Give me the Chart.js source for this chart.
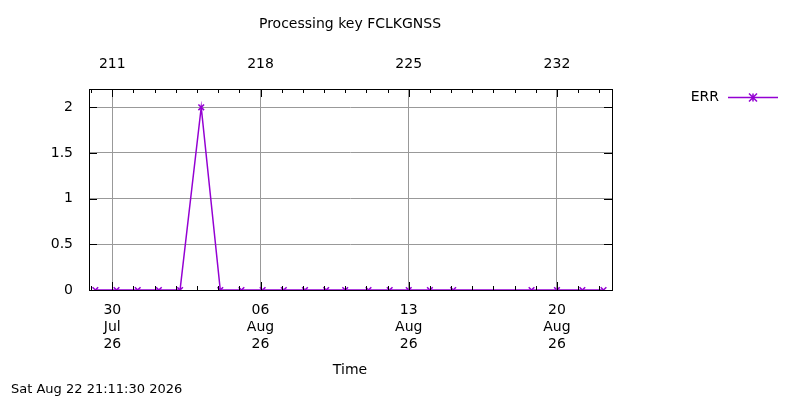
<!DOCTYPE html>
<html><head><meta charset="utf-8">
<script src="https://cdn.jsdelivr.net/npm/chart.js@4/dist/chart.umd.min.js"></script>
<style>html,body{margin:0;padding:0;background:#fff}#w{width:800px;height:400px}</style>
</head><body><div id="w"><canvas id="c" width="800" height="400"></canvas></div>
<script>
const dayOfYear = [210.2,211.2,212.2,213.2,214.2,215.2,216.1,217.1,218.1,219.1,220.1,221.1,222.0,223.1,224.1,225.0,226.0,227.1,230.8,232.0,233.2,234.2];
const errValues = [0,0,0,0,0,2,0,0,0,0,0,0,0,0,0,0,0,0,0,0,0,0];
const topTicks = [211,218,225,232];
const bottomTickLabels = {211:['30','Jul','26'],218:['06','Aug','26'],225:['13','Aug','26'],232:['20','Aug','26']};
const yTicks = [0,0.5,1,1.5,2];
const title = 'Processing key FCLKGNSS';
const xTitle = 'Time';
const stamp = 'Sat Aug 22 21:11:30 2026';
const seriesName = 'ERR';
const color = '#9400d3';
const F = 'DejaVu Sans';

const deco = {
  id:'deco',
  afterDraw(ch){
    const c=ch.ctx, a=ch.chartArea;
    c.save();
    c.strokeStyle='#000';c.lineWidth=1;
    c.strokeRect(a.left+0.5,a.top+0.5,a.right-a.left,a.bottom-a.top);
    c.beginPath();
    const xs=ch.scales.x, ys=ch.scales.y;
    for(let d=210; d<=234; d++){
      if(d<xs.min||d>xs.max) continue;
      const px=Math.round(xs.getPixelForValue(d))+0.5;
      const L = topTicks.includes(d)?8:4;
      c.moveTo(px,a.bottom);c.lineTo(px,a.bottom-L);
      c.moveTo(px,a.top);c.lineTo(px,a.top+L);
    }
    yTicks.forEach(v=>{const py=Math.round(ys.getPixelForValue(v))+0.5;
      c.moveTo(a.left,py);c.lineTo(a.left+8,py);c.moveTo(a.right,py);c.lineTo(a.right-8,py);});
    c.stroke();
    c.fillStyle='#000';c.font='14px '+F;c.textBaseline='middle';
    c.textAlign='center';
    c.fillText(title,350,24);
    c.fillText(xTitle,350,370);
    c.textAlign='left';c.font='13px '+F;
    c.fillText(stamp,11,390);
    c.font='14px '+F;c.textAlign='right';
    c.fillText(seriesName,719,97);
    c.strokeStyle=color;c.lineWidth=1.5;
    c.beginPath();c.moveTo(728,97.5);c.lineTo(778,97.5);c.stroke();
    c.beginPath();
    const cx=753,cy=97.5,r=4;
    c.moveTo(cx-r,cy-r);c.lineTo(cx+r,cy+r);c.moveTo(cx-r,cy+r);c.lineTo(cx+r,cy-r);
    c.moveTo(cx,cy-r);c.lineTo(cx,cy+r);c.stroke();
    c.restore();
  }
};

new Chart(document.getElementById('c'),{
  type:'line',
  data:{datasets:[{label:seriesName,data:dayOfYear.map((d,i)=>({x:d,y:errValues[i]})),
    borderColor:color,backgroundColor:color,borderWidth:1.5,pointStyle:'crossRot',pointRadius:4,
    pointBorderWidth:1.5,tension:0}]},
  options:{responsive:false,animation:false,devicePixelRatio:1,
    layout:{padding:{left:0,right:188,top:0,bottom:0}},
    plugins:{legend:{display:false},tooltip:{enabled:false}},
    scales:{
      x:{type:'linear',position:'bottom',min:209.9,max:234.6,
        afterBuildTicks(s){s.ticks=topTicks.map(v=>({value:v}));},
        afterFit(s){s.height=110;},
        grid:{color:'#999',lineWidth:1,borderDash:[1,2],drawTicks:false},
        border:{display:false},
        ticks:{padding:12,color:'#000',font:{family:F,size:14},maxRotation:0,
          callback:v=>bottomTickLabels[v]||''}},
      x2:{type:'linear',position:'top',min:209.9,max:234.6,
        afterBuildTicks(s){s.ticks=topTicks.map(v=>({value:v}));},
        afterFit(s){s.height=89;},
        grid:{display:false},border:{display:false},
        ticks:{padding:8,color:'#000',font:{family:F,size:14},maxRotation:0,callback:v=>String(v)}},
      y:{min:0,max:2.2,
        afterBuildTicks(s){s.ticks=yTicks.map(v=>({value:v}));},
        afterFit(s){s.width=89;},
        grid:{color:'#999',lineWidth:1,borderDash:[1,2],drawTicks:false},
        border:{display:false},
        ticks:{padding:16,color:'#000',font:{family:F,size:14},callback:v=>String(v)}}
    }},
  plugins:[deco]
});
</script></body></html>
